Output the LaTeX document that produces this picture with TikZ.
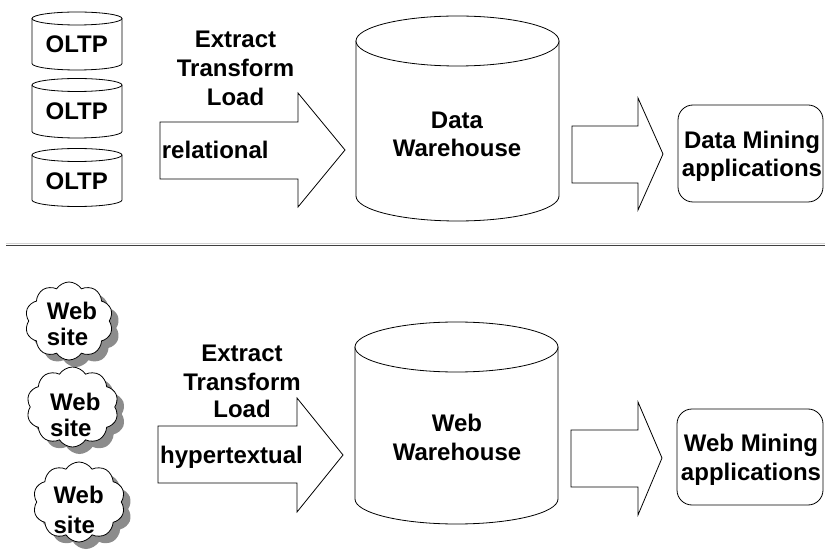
\documentclass[tikz,border=0pt]{standalone}
\usepackage{fontspec}
\setmainfont{Liberation Sans}
\usetikzlibrary{shapes.symbols,shadows}
\newcommand\dbcyl[5]{%
  \draw[cylline] ({#1-#2},{-#3}) -- ({#1-#2},{-#4}) arc[start angle=180,end angle=360,x radius=#2,y radius=#5] -- ({#1+#2},{-#3});
  \draw[cylline] (#1,{-#3}) ellipse[x radius=#2,y radius=#5];}
\begin{document}
\begin{tikzpicture}[x=1pt,y=1pt,
  cylline/.style={draw=black,fill=white,line width=0.8pt},
  blockarrow/.style={draw=black,fill=white,line width=0.8pt,line join=miter},
  appbox/.style={draw=black,fill=white,line width=0.8pt,rounded corners=15pt},
  webcloud/.style={draw=black,fill=white,line width=0.8pt,cloud,cloud puffs=10,cloud puff arc=115,inner sep=0pt,
     drop shadow={shadow xshift=7pt,shadow yshift=-7pt,fill=gray!90,opacity=1}},
  txt/.style={font=\fontsize{24}{28}\selectfont\bfseries,inner sep=0pt,anchor=base},
  txtl/.style={txt,anchor=base west}]
\useasboundingbox (0,0) rectangle (825,-553);

% ---------- top half ----------
\dbcyl{77}{45}{18.5}{63.5}{6.5}
\dbcyl{77}{45}{85}{131.5}{6.5}
\dbcyl{77}{45}{155}{200}{6.5}
\node[txt] (o1) at (76.7,-53) {OLTP};
\node[txt] (o2) at (76.7,-120) {OLTP};
\node[txt] (o3) at (76.7,-190) {OLTP};

\draw[blockarrow] (160,-122) -- (298,-122) -- (298,-93) -- (345,-150) -- (298,-207) -- (298,-179) -- (160,-179) -- cycle;
\node[txt] (e1) at (235.5,-48) {Extract};
\node[txt] (t1) at (235.5,-77) {Transform};
\node[txt] (l1) at (235.5,-106) {Load};
\node[txtl] (rel) at (161.7,-159) {relational};

\dbcyl{457.5}{101.5}{41}{196}{25}
\node[txt] (dw1) at (457,-128.3) {Data};
\node[txt] (dw2) at (457,-156.7) {Warehouse};

\draw[blockarrow] (572,-126) -- (638,-126) -- (638,-98) -- (663,-154) -- (638,-210) -- (638,-183) -- (572,-183) -- cycle;
\draw[appbox] (678,-105) rectangle (823,-202);
\node[txt] (dm1) at (752,-148.3) {Data Mining};
\node[txt] (dm2) at (752,-176.7) {applications};

% ---------- separator ----------
\draw[gray!35,line width=1pt] (6,-244) -- (825,-244);
\draw[black!75,line width=1pt] (6,-245.3) -- (825,-245.3);

% ---------- bottom half ----------
\node[webcloud,minimum width=88pt,minimum height=78pt] (c1) at (69,-321) {};
\node[webcloud,minimum width=92pt,minimum height=80pt] (c2) at (72.5,-407) {};
\node[webcloud,minimum width=92pt,minimum height=80pt] (c3) at (79,-502) {};
\node[txtl] (w1) at (46.7,-320) {Web};
\node[txtl] (s1) at (46.7,-346) {site};
\node[txtl] (w2) at (50,-410) {Web};
\node[txtl] (s2) at (50,-436.7) {site};
\node[txtl] (w3) at (53.3,-503) {Web};
\node[txtl] (s3) at (53.3,-533) {site};

\draw[blockarrow] (158,-426) -- (297,-426) -- (297,-398) -- (343,-455) -- (297,-512) -- (297,-483) -- (158,-483) -- cycle;
\node[txt] (e2) at (242,-361.7) {Extract};
\node[txt] (t2) at (242,-390) {Transform};
\node[txt] (l2) at (242,-417.7) {Load};
\node[txtl] (hyp) at (160,-463) {hypertextual};

\dbcyl{456.5}{101.5}{347}{499}{25}
\node[txt] (ww1) at (457,-431.7) {Web};
\node[txt] (ww2) at (457,-460) {Warehouse};

\draw[blockarrow] (571,-430) -- (638,-430) -- (638,-402) -- (662,-458) -- (638,-515) -- (638,-487) -- (571,-487) -- cycle;
\draw[appbox] (677,-409) rectangle (823,-505);
\node[txt] (wm1) at (751,-451.7) {Web Mining};
\node[txt] (wm2) at (751,-480) {applications};
\end{tikzpicture}
\end{document}
